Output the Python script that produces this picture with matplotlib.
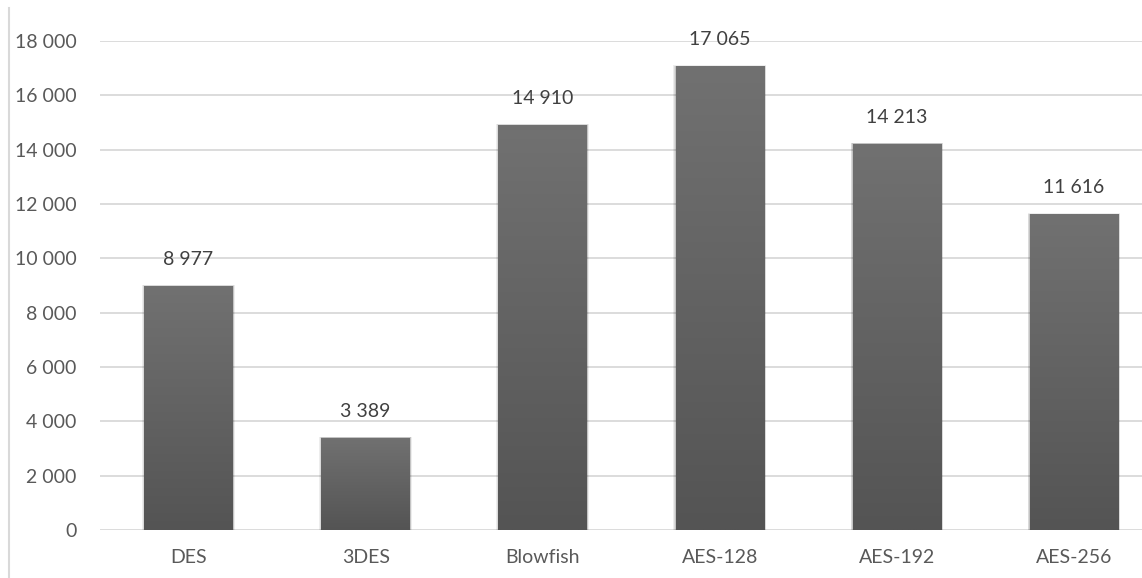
import numpy as np
import matplotlib
matplotlib.use("Agg")
import matplotlib.pyplot as plt
from matplotlib.patches import Rectangle
from matplotlib.colors import LinearSegmentedColormap
from matplotlib.lines import Line2D

categories = ["DES", "3DES", "Blowfish", "AES-128", "AES-192", "AES-256"]
values = [8977, 3389, 14910, 17065, 14213, 11616]
yticks = [0, 2000, 4000, 6000, 8000, 10000, 12000, 14000, 16000, 18000]


def fmt(v):
    return f"{v:,}".replace(",", " ")


plt.rcParams["font.family"] = ["Lato", "DejaVu Sans"]
text_col = "#595959"
grid_col = "#d9d9d9"

W, H = 1142, 578
fig = plt.figure(figsize=(W / 100, H / 100), dpi=100)
fig.patch.set_facecolor("white")

ax_left = 100 / W
ax_bottom = (H - 530) / H
ax_width = 1062.6 / W
ax_height = (530 - 41) / H
ax = fig.add_axes([ax_left, ax_bottom, ax_width, ax_height])

x = np.arange(len(categories))
bar_w = 0.5
ax.set_xlim(-0.5, len(categories) - 0.5)
ax.set_ylim(0, 18000)

for s in ax.spines.values():
    s.set_visible(False)
ax.set_yticks(yticks)
ax.set_yticklabels([fmt(t) for t in yticks])
ax.set_xticks(x)
ax.set_xticklabels(categories)
ax.tick_params(axis="both", length=0, labelsize=14, colors=text_col)
ax.tick_params(axis="y", pad=17)
ax.tick_params(axis="x", pad=14)
ax.yaxis.grid(True, color=grid_col, linewidth=1.3)
ax.set_axisbelow(True)

cmap = LinearSegmentedColormap.from_list("bar", ["#545454", "#717171"])
grad = np.linspace(0, 1, 256).reshape(-1, 1)

bars = ax.bar(x, values, width=bar_w, color="none", edgecolor="none", zorder=3)
for rect, v in zip(bars, values):
    x0 = rect.get_x()
    # soft shadow around the bar
    for k, a in [(0.012, 0.07), (0.008, 0.08), (0.004, 0.1)]:
        ax.add_patch(Rectangle((x0 - k, 0), bar_w + 2 * k, v + k * 4000,
                               facecolor="#000000", alpha=a, edgecolor="none",
                               zorder=2))
    im = ax.imshow(grad, cmap=cmap, origin="lower", aspect="auto",
                   extent=(x0, x0 + bar_w, 0, v), zorder=3)
    im.set_clip_path(rect)
    ax.annotate(fmt(v), (rect.get_x() + bar_w / 2, v), xytext=(0, 13),
                textcoords="offset points", ha="center", va="bottom",
                fontsize=14, color="#404040", zorder=4)

ax.set_xlim(-0.5, len(categories) - 0.5)
ax.set_ylim(0, 18000)

# chart frame edge on the left
fig.add_artist(Line2D([8.5 / W, 8.5 / W], [0, 1 - 8 / H], color=grid_col,
                      linewidth=1.5, transform=fig.transFigure))

fig.savefig("out.png", dpi=100, facecolor="white")
